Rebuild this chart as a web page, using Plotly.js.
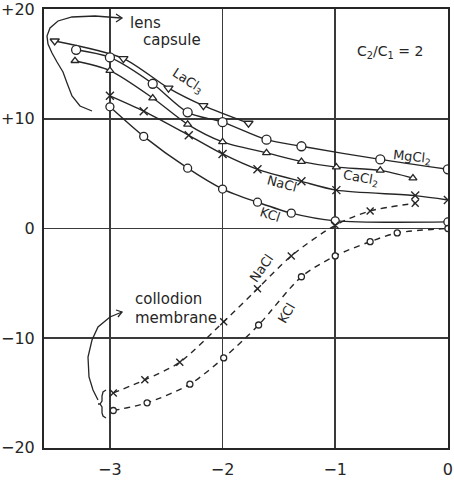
<!DOCTYPE html>
<html>
<head>
<meta charset="utf-8">
<script src="https://cdn.plot.ly/plotly-3.0.1.min.js"></script>
<style>html,body{margin:0;padding:0;background:#fff;}#chart{width:454px;height:494px;}</style>
</head>
<body>
<div id="chart"></div>
<script>
// ---- data ----
// lens capsule, solid curves
const laX = [-3.49, -2.88, -2.48, -2.17, -1.77];
const laY = [17.1, 15.5, 12.8, 11.2, 9.6];
const mgX = [-3.30, -3.00, -2.62, -2.31, -2.00, -1.61, -1.30, -0.60, 0];
const mgY = [16.3, 15.6, 13.2, 10.6, 9.7, 8.1, 7.5, 6.3, 5.4];
const caX = [-3.31, -3.00, -2.62, -2.31, -2.00, -1.61, -1.30, -0.99, -0.60, -0.31];
const caY = [15.3, 14.4, 11.9, 9.5, 7.9, 6.9, 6.1, 5.6, 5.3, 4.6];
const naX = [-3.00, -2.70, -2.30, -2.00, -1.69, -1.30, -0.99, -0.29, 0];
const naY = [12.1, 10.7, 8.5, 6.8, 5.4, 4.3, 3.5, 3.0, 2.6];
const kX  = [-3.00, -2.70, -2.31, -2.00, -1.69, -1.39, -1.00, 0];
const kY  = [11.1, 8.4, 5.5, 3.6, 2.4, 1.4, 0.7, 0.6];
// collodion membrane, dashed curves
const cnX = [-2.97, -2.69, -2.38, -1.99, -1.69, -1.39, -1.00, -0.69, -0.29];
const cnY = [-15.0, -13.8, -12.2, -8.5, -5.5, -2.5, 0.3, 1.6, 2.3];
const ckX = [-2.97, -2.67, -2.29, -1.99, -1.68, -1.30, -1.00, -0.69, -0.45, 0];
const ckY = [-16.6, -15.9, -14.2, -11.8, -8.8, -4.4, -2.5, -1.2, -0.4, 0.0];
// ticks
const xTickVals = [-3, -2, -1, 0];
const xTickText = ['\u22123', '\u22122', '\u22121', '0'];
const yTickVals = [20, 10, 0, -10, -20];
const yTickText = ['+20', '+10', '0', '\u221210', '\u221220'];

// ---- layout geometry ----
const W = 454, H = 494;
const M = {l: 44, r: 6, t: 9, b: 46};
const xr = [-3.585, 0.001], yr = [-20.02, 20.02];
const L = M.l, R = W - M.r, T = M.t, B = H - M.b;
function X(px){ return xr[0] + (px - L) / (R - L) * (xr[1] - xr[0]); }
function Y(py){ return yr[1] - (py - T) / (B - T) * (yr[1] - yr[0]); }
function path(pts){ return pts.map((p,i)=> (i? 'L':'M') + X(p[0]) + ',' + Y(p[1])).join(' '); }

const INK = '#262626';
const FONT = 'DejaVu Sans';

function marker(sym, size){
  if (sym.indexOf('x-thin') === 0) {
    return {symbol:'x-thin-open', size:size, color:INK, line:{color:INK, width:1.4}};
  }
  return {symbol:sym, size:size, color:'#fff', line:{color:INK, width:1.3}};
}
function solid(x, y, sym, size){
  return {x:x, y:y, type:'scatter', mode:'lines+markers',
    line:{color:INK, width:1.4, shape:'spline', smoothing:0.8},
    marker:marker(sym, size), showlegend:false, hoverinfo:'skip'};
}
function dashed(x, y, sym, size){
  return {x:x, y:y, type:'scatter', mode:'lines+markers',
    line:{color:INK, width:1.4, dash:'6px,5px', shape:'spline', smoothing:0.8},
    marker:marker(sym, size), showlegend:false, hoverinfo:'skip'};
}

const data = [
  solid(laX, laY, 'triangle-down', 8),
  solid(mgX, mgY, 'circle', 9),
  solid(caX, caY, 'triangle-up', 7),
  solid(naX, naY, 'x-thin', 8),
  solid(kX, kY, 'circle', 8),
  dashed(cnX, cnY, 'x-thin', 7),
  dashed(ckX, ckY, 'circle', 6)
];

function ann(px, py, text, size, opts){
  return Object.assign({x:X(px), y:Y(py), xref:'x', yref:'y', text:text, showarrow:false,
    font:{family:FONT, size:size, color:INK}}, opts||{});
}

const annotations = [
  ann(128, 23, 'lens', 15, {xanchor:'left'}),
  ann(141, 40, 'capsule', 15, {xanchor:'left'}),
  ann(133, 299, 'collodion', 15, {xanchor:'left'}),
  ann(133, 318, 'membrane', 15, {xanchor:'left'}),
  ann(390, 52, 'C<sub>2</sub>/C<sub>1</sub> = 2', 14),
  ann(188, 81, 'LaCl<sub>3</sub>', 13, {textangle:33}),
  ann(412, 157, 'MgCl<sub>2</sub>', 13, {textangle:6}),
  ann(361, 178, 'CaCl<sub>2</sub>', 13, {textangle:10}),
  ann(282, 183, 'NaCl', 13, {textangle:15}),
  ann(270, 214, 'KCl', 13, {textangle:18}),
  ann(261, 268, 'NaCl', 13, {textangle:-55}),
  ann(286, 313, 'KCl', 13, {textangle:-60}),
  ann(20, 192, 'mv', 16),
  ann(275, 479, 'Log C<sub>2</sub>', 16)
];

const shapes = [
  {type:'path', xref:'x', yref:'y', line:{color:INK, width:1.3},
   path: path([[92,111],[80,106],[72,96],[67,83],[63,72],[57,62],[52,53],[48,44],[47,36],[50,28],[58,21],[72,17],[95,16],[121,18]])},
  {type:'path', xref:'x', yref:'y', line:{color:INK, width:1.3},
   path: path([[116,14],[122,18],[116,22]])},
  {type:'path', xref:'x', yref:'y', line:{color:INK, width:1.3},
   path: path([[98,400],[93,390],[89,377],[88,357],[92,340],[98,327],[110,317],[122,312]])},
  {type:'path', xref:'x', yref:'y', line:{color:INK, width:1.3},
   path: path([[116,310],[122,312],[118,317]])},
  {type:'path', xref:'x', yref:'y', line:{color:INK, width:1.3},
   path: path([[106,390],[103,392],[102,396],[102,401],[100,404],[98,404],[100,404],[102,407],[102,413],[103,416],[106,418]])}
];

const layout = {
  width:W, height:H,
  margin:M,
  paper_bgcolor:'#fff', plot_bgcolor:'#fff',
  showlegend:false,
  font:{family:FONT, color:INK},
  xaxis:{range:xr, tickvals:xTickVals, ticktext:xTickText, showgrid:true, gridcolor:'#3a3a3a', gridwidth:1.5,
    zeroline:false, showline:true, mirror:true, linecolor:INK, linewidth:2, ticks:'',
    tickfont:{family:FONT, size:16, color:INK}, ticklabelstandoff:6, ticklabeloverflow:'allow', fixedrange:true},
  yaxis:{range:yr, tickvals:yTickVals, ticktext:yTickText, showgrid:true, gridcolor:'#3a3a3a', gridwidth:1.5,
    zeroline:false, showline:true, mirror:true, linecolor:INK, linewidth:2, ticks:'',
    tickfont:{family:FONT, size:16, color:INK}, ticklabelstandoff:4, ticklabeloverflow:'allow', fixedrange:true},
  annotations:annotations,
  shapes:shapes
};

Plotly.newPlot('chart', data, layout, {staticPlot:true, displayModeBar:false});
</script>
</body>
</html>
